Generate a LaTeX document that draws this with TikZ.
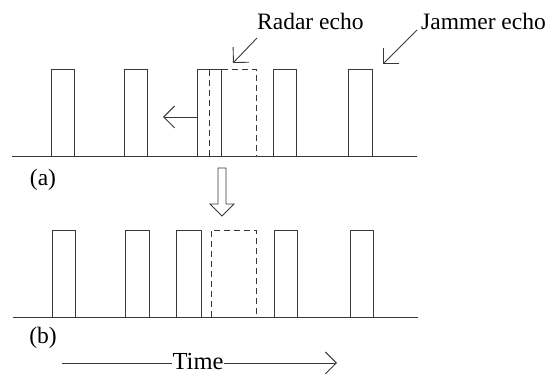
\documentclass[tikz,border=0pt]{standalone}
\usepackage{fontspec}
\setmainfont{Liberation Serif}
\usetikzlibrary{arrows.meta}
\begin{document}
\begin{tikzpicture}[x=1pt,y=-1pt,
  ln/.style={draw=black!78,line width=0.9pt},
  pulse/.style={ln},
  radar/.style={ln,dash pattern=on 6pt off 4pt},
  barb/.style={ln,-{Straight Barb[length=11pt,width=22pt,line width=0.9pt]}},
  lbl/.style={font=\fontsize{23.5}{26}\selectfont,inner sep=0pt,text=black}]
\useasboundingbox (0,0) rectangle (550,374);
% panel (a)
\draw[ln] (12,156) -- (417,156);
\foreach \l/\r in {51/74,124/147,197/221,273/296,348/372}
  \draw[pulse] (\l,156) -- (\l,69) -- (\r,69) -- (\r,156);
\draw[radar] (209,156) -- (209,69) -- (256,69) -- (256,156);
\coordinate (la) at (197,117);
\coordinate (lb) at (163,117);
\draw[barb] (la) -- (lb);
\node[lbl,anchor=base west] (radar) at (257,30) {Radar echo};
\node[lbl,anchor=base west] (jam) at (421,30) {Jammer echo};
\coordinate (rt) at (233,63);
\coordinate (jt) at (383,64);
\draw[barb] (257,38) -- (rt);
\draw[barb] (417,30) -- (jt);
\node[lbl] (a) at (43,180) {(a)};
% hollow down arrow
\draw[ln,line join=miter] (218,168) -- (226,168) -- (226,204) -- (234,204) -- (222,216) -- (210,204) -- (218,204) -- cycle;
% panel (b)
\draw[ln] (13,317) -- (418,317);
\foreach \l/\r in {52/75,125/149,176/201,274/297,350/373}
  \draw[pulse] (\l,317) -- (\l,230) -- (\r,230) -- (\r,317);
\draw[radar] (211,317) -- (211,230) -- (256,230) -- (256,317);
\node[lbl] (b) at (43,338) {(b)};
\node[lbl,font=\fontsize{24.5}{27}\selectfont,anchor=base] (time) at (198,370) {Time};
\coordinate (t0) at (62,363);
\coordinate (t1) at (337,363);
\draw[ln] (t0) -- (time.west |- t0);
\draw[barb] (time.east |- t1) -- (t1);
\end{tikzpicture}
\end{document}
